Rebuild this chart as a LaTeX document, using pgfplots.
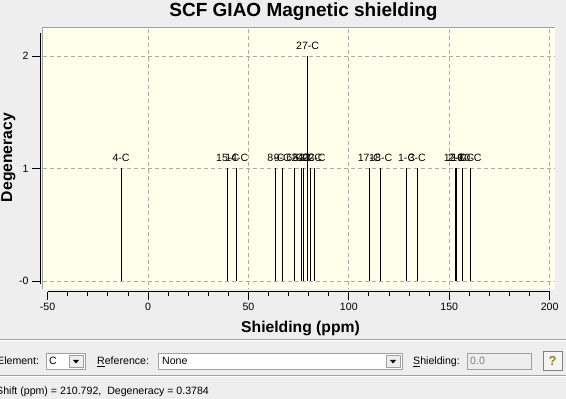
\documentclass[border=0pt]{standalone}
\usepackage{pgfplots}
\pgfplotsset{compat=1.18}
\usepackage{pgfplotstable}
\usepackage{fontspec}
\setmainfont{Liberation Sans}
\definecolor{bg}{RGB}{239,238,238}
\definecolor{plotbg}{RGB}{255,255,236}
\definecolor{gridc}{RGB}{168,172,176}
\definecolor{bord}{RGB}{160,160,160}
\pgfplotstableread{
x y lab
-13.4 1 4-C
39.7 1 15-C
44.2 1 14-C
63.7 1 8-C
66.9 1 9-C
73.1 1 6-C
76.4 1 5-C
77.3 1 24-C
79.5 2 27-C
81.0 1 23-C
82.7 1 22-C
110.2 1 17-C
115.9 1 18-C
128.8 1 1-C
134.1 1 3-C
153.1 1 12-C
153.6 1 2-C
156.8 1 19-C
160.4 1 10-C
}\bars
\begin{document}
\begin{tikzpicture}
\useasboundingbox (-40pt,-107pt) rectangle (526pt,292pt);
\begin{scope}[shift={(-40pt,292pt)}, x=1pt, y=-1pt]
  \fill[bg] (0,0) rectangle (566,399);
  \fill[plotbg] (42,28) rectangle (555,289);
  \draw[bord, line width=1pt] (42,289) -- (42,28) -- (555,28);
  \foreach \gx in {148,248.4,348.8,449.2,549.6}
    \draw[gridc, line width=0.8pt, dash pattern=on 4pt off 3pt] (\gx,29) -- (\gx,289);
  \foreach \gy in {56,168.5,281}
    \draw[gridc, line width=0.8pt, dash pattern=on 4pt off 3pt] (43,\gy) -- (555,\gy);
  % axis lines
  \draw[black, line width=1pt] (47.6,292) -- (549.6,292);
  \draw[black, line width=1pt] (40,33) -- (40,284);
\end{scope}
\begin{axis}[at={(0,0)}, anchor=south west, scale only axis,
  width=513pt, height=264pt,
  xmin=-53.785, xmax=201.69, ymin=-0.0978, ymax=2.2489,
  axis lines*=left, axis line style={draw=none},
  tick align=outside,
  xtick={-50,0,50,100,150,200}, xticklabels={-50,0,50,100,150,200},
  minor x tick num=4,
  ytick={0,1,2}, yticklabels={-0,1,2},
  major tick length=8pt, minor tick length=4pt,
  every tick/.style={black, line width=0.8pt},
  ticklabel style={font=\fontsize{10.6}{12}\selectfont},
  clip=false]
\addplot[ycomb, black, line width=1pt, mark=none,
  nodes near coords, point meta=explicit symbolic,
  every node near coord/.style={anchor=base, yshift=6.5pt, inner sep=0pt,
    font=\fontsize{10.6}{12}\selectfont, black}]
  table[x=x, y=y, meta=lab] {\bars};
\end{axis}
\begin{scope}[shift={(-40pt,292pt)}, x=1pt, y=-1pt]
  \node[font=\fontsize{19}{22}\selectfont\bfseries, anchor=base, inner sep=0pt] at (303.5,16.7) {SCF GIAO Magnetic shielding};
  \node[font=\fontsize{15.7}{18}\selectfont\bfseries, anchor=base, inner sep=0pt] at (300.5,333) {Shielding (ppm)};
  \node[font=\fontsize{15.7}{18}\selectfont\bfseries, rotate=90, inner sep=0pt] at (8.5,157.5) {Degeneracy};
  % GUI panel
  \clip (0,0) rectangle (566,399);
  \draw[bord] (0,339) -- (566,339);
  \draw[white] (0,340) -- (566,340);
  \draw[bord] (0,375.5) -- (566,375.5);
  \draw[white] (0,376.5) -- (566,376.5);
  \begin{scope}[font=\fontsize{10.6}{12}\selectfont]
  \node[anchor=base west, inner sep=0pt] at (-3,365) {Element:};
  \fill[white] (46,353) rectangle (85,369);
  \draw[bord] (46,353) rectangle (85,369);
  \node[anchor=base west, inner sep=0pt] at (49,365) {C};
  \fill[bg] (69,355) rectangle (83,367);
  \draw[bord] (69,355) rectangle (83,367);
  \fill[black] (73,360) -- (79,360) -- (76,363.5) -- cycle;
  \node[anchor=base west, inner sep=0pt] at (97,365) {\underline{R}eference:};
  \fill[white] (158,353) rectangle (402,369);
  \draw[bord] (158,353) rectangle (402,369);
  \node[anchor=base west, inner sep=0pt] at (162,365) {None};
  \fill[bg] (386,355) rectangle (400,367);
  \draw[bord] (386,355) rectangle (400,367);
  \fill[black] (390,360) -- (396,360) -- (393,363.5) -- cycle;
  \node[anchor=base west, inner sep=0pt] at (413,365) {\underline{S}hielding:};
  \draw[bord] (467.5,353) rectangle (531,369);
  \node[anchor=base west, inner sep=0pt, text=gray] at (470,365) {0.0};
  \fill[bg!60!white] (543,351) rectangle (562,370);
  \draw[gray] (543,351) rectangle (562,370);
  \node[inner sep=0pt, font=\fontsize{13}{14}\selectfont\bfseries, text={rgb,255:red,150;green,130;blue,20}] at (552.5,361) {?};
  \node[anchor=base west, inner sep=0pt] at (-4,395) {Shift (ppm) = 210.792,\ \ Degeneracy = 0.3784};
  \end{scope}
\end{scope}
\end{tikzpicture}
\end{document}
